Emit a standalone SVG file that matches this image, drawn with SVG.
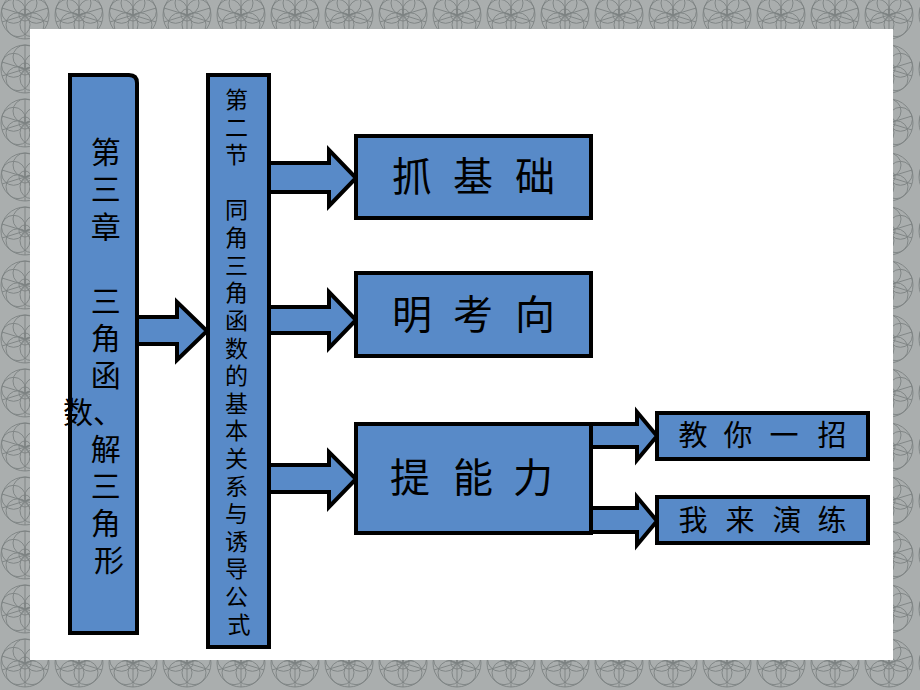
<svg xmlns="http://www.w3.org/2000/svg" width="920" height="690" viewBox="0 0 920 690">
  <defs>
    <pattern id="rosette" width="54" height="54" patternUnits="userSpaceOnUse" patternTransform="translate(-2,-12)">
      <rect width="54" height="54" fill="#aaaeae"/>
      <g fill="none" stroke="#7c8181" stroke-width="0.9">
        <circle cx="27" cy="27" r="24"/>
        <circle cx="27" cy="27" r="6"/>
        <circle cx="27" cy="15" r="12"/>
        <circle cx="38.4" cy="23.3" r="12"/>
        <circle cx="34" cy="36.7" r="12"/>
        <circle cx="20" cy="36.7" r="12"/>
        <circle cx="15.6" cy="23.3" r="12"/>
        <path d="M27,3 L27,51 M4,20 L50,34 M50,20 L4,34"/>
      </g>
    </pattern>
    <style>
      .box { fill: #588ac8; stroke: #000; stroke-width: 4; stroke-linejoin: miter; }
      .arrow { fill: #588ac8; stroke: #000; stroke-width: 4; stroke-linejoin: miter; }
      .t { font-family: "Noto Sans CJK SC", "Noto Sans", sans-serif; fill: #000; text-anchor: middle; }
      .v1 { font-size: 30px; }
      .v2 { font-size: 23px; }
      .big { font-size: 40px; }
      .small { font-size: 29px; }
    </style>
  </defs>

  <rect width="920" height="690" fill="url(#rosette)"/>
  <rect x="30" y="29" width="863" height="631" fill="#ffffff"/>

  <g id="connectors">
    <polygon class="arrow" points="137,317 177,317 177,302 207,331 177,360 177,344 137,344"/>
    <polygon class="arrow" points="269,163 329,163 329,150 356,178 329,206 329,192 269,192"/>
    <polygon class="arrow" points="269,307 329,307 329,292 356,320 329,348 329,333 269,333"/>
    <polygon class="arrow" points="269,465 329,465 329,452 356,479 329,507 329,492 269,492"/>
    <polygon class="arrow" points="591,424 637,424 637,412 657,436 637,460 637,447 591,447"/>
    <polygon class="arrow" points="591,508 637,508 637,497 657,521 637,545 637,532 591,532"/>
  </g>

  <g id="chapter">
    <path class="box" d="M70,75 L129,75 Q137,75 137,83 L137,633 L70,633 Z"/>
    <text class="t v1">
      <tspan x="109" y="163">第</tspan>
      <tspan x="109" y="200">三</tspan>
      <tspan x="109" y="238">章</tspan>
      <tspan x="109" y="312">三</tspan>
      <tspan x="109" y="349">角</tspan>
      <tspan x="109" y="386">函</tspan>
      <tspan x="63" y="423" style="text-anchor:start">数、</tspan>
      <tspan x="109" y="460">解</tspan>
      <tspan x="109" y="497">三</tspan>
      <tspan x="109" y="534">角</tspan>
      <tspan x="109" y="571">形</tspan>
    </text>
  </g>

  <g id="section">
    <rect class="box" x="208" y="75" width="61" height="572"/>
    <text class="t v2">
      <tspan x="239" y="108">第</tspan>
      <tspan x="239" y="136">二</tspan>
      <tspan x="239" y="163">节</tspan>
      <tspan x="239" y="218">同</tspan>
      <tspan x="239" y="246">角</tspan>
      <tspan x="239" y="274">三</tspan>
      <tspan x="239" y="301">角</tspan>
      <tspan x="239" y="329">函</tspan>
      <tspan x="239" y="357">数</tspan>
      <tspan x="239" y="384">的</tspan>
      <tspan x="239" y="412">基</tspan>
      <tspan x="239" y="439">本</tspan>
      <tspan x="239" y="467">关</tspan>
      <tspan x="239" y="495">系</tspan>
      <tspan x="239" y="522">与</tspan>
      <tspan x="239" y="550">诱</tspan>
      <tspan x="239" y="577">导</tspan>
      <tspan x="239" y="605">公</tspan>
      <tspan x="239" y="633">式</tspan>
    </text>
  </g>

  <g id="basics">
    <rect class="box" x="356" y="136" width="235" height="82"/>
    <text class="t big" y="191"><tspan x="412">抓</tspan><tspan x="473">基</tspan><tspan x="535">础</tspan></text>
  </g>

  <g id="exam">
    <rect class="box" x="356" y="273" width="235" height="83"/>
    <text class="t big" y="329"><tspan x="412">明</tspan><tspan x="473">考</tspan><tspan x="535">向</tspan></text>
  </g>

  <g id="ability">
    <rect class="box" x="356" y="424" width="235" height="109"/>
    <text class="t big" y="492"><tspan x="410">提</tspan><tspan x="473">能</tspan><tspan x="533">力</tspan></text>
  </g>

  <g id="teach">
    <rect class="box" x="657" y="413" width="211" height="46"/>
    <text class="t small" y="446"><tspan x="693">教</tspan><tspan x="738">你</tspan><tspan x="784">一</tspan><tspan x="832">招</tspan></text>
  </g>

  <g id="practice">
    <rect class="box" x="657" y="497" width="211" height="46"/>
    <text class="t small" y="531"><tspan x="693">我</tspan><tspan x="740">来</tspan><tspan x="787">演</tspan><tspan x="832">练</tspan></text>
  </g>
</svg>
